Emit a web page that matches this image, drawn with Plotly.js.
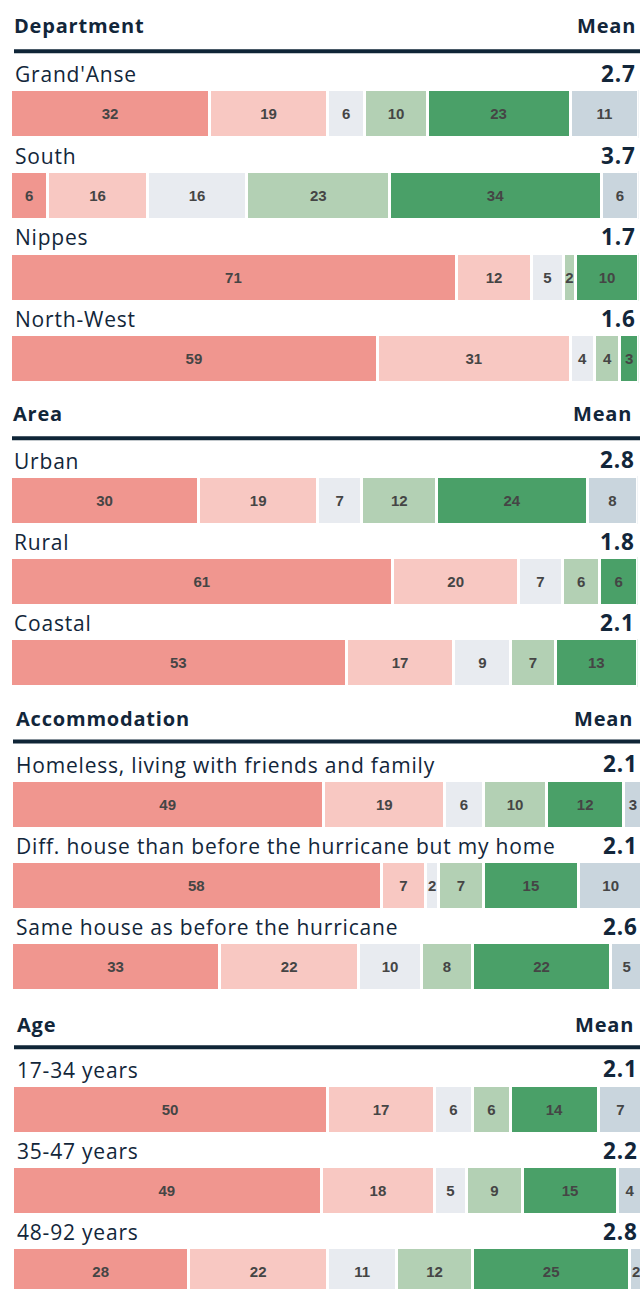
<!DOCTYPE html>
<html><head><meta charset="utf-8">
<script src="https://cdn.plot.ly/plotly-3.0.1.min.js"></script>
<style>
html,body{margin:0;padding:0;background:#fff;overflow:hidden}
.annotation-text{letter-spacing:0.8px}
</style>
</head><body><div id="chart" style="width:640px;height:1289px"></div>
<script>
// ---------- data ----------
const segmentNames = ['Level 1','Level 2','Level 3','Level 4','Level 5','Level 6'];
const segmentColors = ['#f0968f','#f8c8c2','#e8ebf0','#b3d0b4','#4aa068','#c9d5dd'];

const sectionTitles = ['Department','Area','Accommodation','Age'];
const meanHeader = 'Mean';

const departmentLabels = ["Grand'Anse",'South','Nippes','North-West'];
const departmentValues = [
  [32,19,6,10,23,11],
  [6,16,16,23,34,6],
  [71,12,5,2,10,0],
  [59,31,4,4,3,0]
];
const departmentMeans = [2.7,3.7,1.7,1.6];

const areaLabels = ['Urban','Rural','Coastal'];
const areaValues = [
  [30,19,7,12,24,8],
  [61,20,7,6,6,0],
  [53,17,9,7,13,0]
];
const areaMeans = [2.8,1.8,2.1];

const accommodationLabels = ['Homeless, living with friends and family','Diff. house than before the hurricane but my home','Same house as before the hurricane'];
const accommodationValues = [
  [49,19,6,10,12,3],
  [58,7,2,7,15,10],
  [33,22,10,8,22,5]
];
const accommodationMeans = [2.1,2.1,2.6];

const ageLabels = ['17-34 years','35-47 years','48-92 years'];
const ageValues = [
  [50,17,6,6,14,7],
  [49,18,5,9,15,4],
  [28,22,11,12,25,2]
];
const ageMeans = [2.1,2.2,2.8];

// ---------- layout geometry (pixels) ----------
const W = 640, H = 1289;
const geometry = [
  {barLeft:12, barRight:637, center0:113.5, step:81.83, labelX:13, meanRight:638, headLeft:12, headRight:638, headBase:33,   ruleY:51.3,   ruleX0:14},
  {barLeft:12, barRight:636, center0:500.2, step:81.15, labelX:12, meanRight:637, headLeft:11, headRight:634, headBase:421,  ruleY:438.2,  ruleX0:12},
  {barLeft:13, barRight:641, center0:804.2, step:81.25, labelX:14, meanRight:640, headLeft:14, headRight:635, headBase:726,  ruleY:741.5,  ruleX0:13},
  {barLeft:14, barRight:641, center0:1109.2,step:81.15, labelX:15, meanRight:640, headLeft:15, headRight:636, headBase:1032, ruleY:1047.2, ruleX0:14}
];

const sections = [
  {labels:departmentLabels, values:departmentValues, means:departmentMeans},
  {labels:areaLabels, values:areaValues, means:areaMeans},
  {labels:accommodationLabels, values:accommodationValues, means:accommodationMeans},
  {labels:ageLabels, values:ageValues, means:ageMeans}
];

const textColor = '#12263a';
const fontFamily = '"Open Sans", Lato, sans-serif';
const labelSize = 21, meanSize = 22.5, headSize = 20;
const stroke = 3, visibleBar = 45, labelGap = 9;

const traces = [];
const layout = {
  width: W, height: H,
  margin: {l:0, r:0, t:0, b:0},
  paper_bgcolor: '#fff', plot_bgcolor: 'rgba(0,0,0,0)',
  barmode: 'stack', barnorm: 'percent',
  showlegend: false, hovermode: false,
  annotations: [], shapes: []
};
const px = v => v / W;
const py = v => 1 - v / H;

sections.forEach((sec, i) => {
  const g = geometry[i];
  const n = sec.labels.length;
  const suf = i === 0 ? '' : String(i + 1);
  const xName = 'x' + suf, yName = 'y' + suf;

  const yTop = g.center0 - g.step / 2;
  let yBot = g.center0 + (n - 0.5) * g.step;
  let rangeBottom = n - 0.5;
  if (yBot > H) { yBot = H; rangeBottom = (H - g.center0) / g.step; }
  layout['yaxis' + suf] = {
    type: 'category', categoryorder: 'array', categoryarray: sec.labels,
    domain: [py(yBot), py(yTop)], range: [rangeBottom, -0.5],
    anchor: xName, visible: false, fixedrange: true
  };
  const xl = g.barLeft - stroke / 2;
  let xr = g.barRight + stroke / 2;
  let rangeMax = 100;
  if (xr > W) { rangeMax = 100 * (W - xl) / (xr - xl); xr = W; }
  layout['xaxis' + suf] = {
    domain: [px(xl), px(xr)], range: [0, rangeMax],
    anchor: yName, visible: false, fixedrange: true
  };

  segmentColors.forEach((col, j) => {
    traces.push({
      type: 'bar', orientation: 'h', name: segmentNames[j],
      xaxis: xName, yaxis: yName,
      y: sec.labels,
      x: sec.values.map(r => r[j]),
      text: sec.values.map(r => r[j] > 0 ? String(r[j]) : ''),
      width: (visibleBar + stroke) / g.step,
      marker: {color: col, line: {color: '#ffffff', width: stroke}},
      textposition: 'inside', insidetextanchor: 'middle',
      constraintext: 'none', textangle: 0,
      insidetextfont: {family: '"Liberation Sans", Arial, sans-serif', size: 15, color: '#454545', weight: 'bold'},
      hoverinfo: 'skip'
    });
  });

  sec.labels.forEach((lab, k) => {
    layout.annotations.push({
      xref: 'paper', yref: yName, x: px(g.labelX), y: lab,
      xanchor: 'left', yanchor: 'middle',
      yshift: visibleBar / 2 + labelGap + 0.39 * labelSize,
      text: lab, showarrow: false,
      font: {family: fontFamily, size: labelSize, color: textColor}
    });
    layout.annotations.push({
      xref: 'paper', yref: yName, x: px(g.meanRight), y: lab,
      xanchor: 'right', yanchor: 'middle',
      yshift: visibleBar / 2 + labelGap + 0.39 * meanSize,
      text: sec.means[k].toFixed(1), showarrow: false,
      font: {family: fontFamily, size: meanSize, color: textColor, weight: 'bold'}
    });
  });

  layout.annotations.push({
    xref: 'paper', yref: 'paper', x: px(g.headLeft), y: py(g.headBase - 0.39 * headSize),
    xanchor: 'left', yanchor: 'middle', text: sectionTitles[i], showarrow: false,
    font: {family: fontFamily, size: headSize, color: textColor, weight: 'bold'}
  });
  layout.annotations.push({
    xref: 'paper', yref: 'paper', x: px(g.headRight), y: py(g.headBase - 0.39 * headSize),
    xanchor: 'right', yanchor: 'middle', text: meanHeader, showarrow: false,
    font: {family: fontFamily, size: headSize, color: textColor, weight: 'bold'}
  });
  layout.shapes.push({
    type: 'line', xref: 'paper', yref: 'paper',
    x0: px(g.ruleX0), x1: 1, y0: py(g.ruleY), y1: py(g.ruleY),
    line: {color: '#0f2537', width: 4}
  });
});

Plotly.newPlot('chart', traces, layout, {displayModeBar: false, staticPlot: true});
</script>
</body></html>
